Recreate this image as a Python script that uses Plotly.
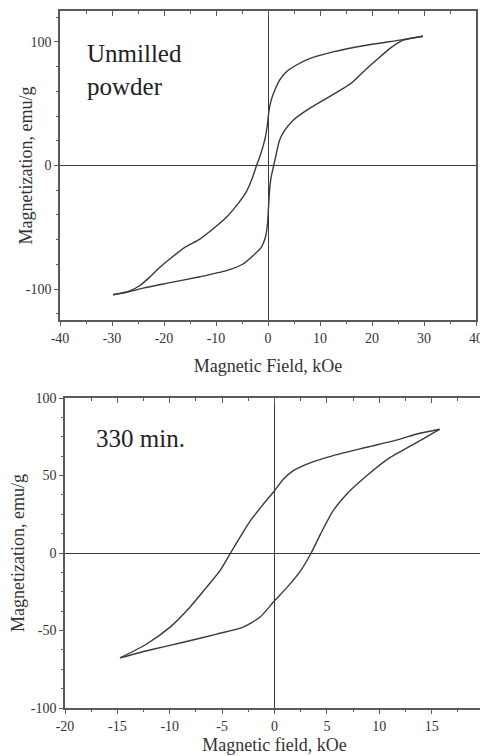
import plotly.graph_objects as go

# ---------------- Data ----------------
# Top panel: Unmilled powder (field in kOe, magnetization in emu/g)
unmilled_desc_H = [29.8, 25.3, 18.9, 12.5, 8.0, 5.4, 3.5, 2.2, 1.3, 0.6, 0.2, -0.1, -0.5, -1.0, -1.6,
                   -2.2, -3.2, -4.2, -5.8, -8.0, -10.6, -13.1, -16.0, -18.9, -20.8, -22.8, -24.7, -26.6, -29.8]
unmilled_desc_M = [104.6, 101.4, 97.3, 91.9, 86.5, 81.1, 75.7, 68.9, 60.8, 52.7, 44.6, 33.8, 23.0, 14.9, 6.8,
                   0.0, -12.2, -21.6, -31.1, -41.9, -51.4, -59.5, -66.2, -75.7, -82.4, -90.5, -97.3, -101.4, -104.6]
unmilled_asc_H = [-29.8, -27.2, -24.0, -19.6, -13.1, -8.0, -4.8, -2.9, -1.3, -0.5, -0.1, 0.1, 0.3, 0.6, 1.1,
                  1.6, 2.2, 3.2, 4.8, 7.4, 10.6, 14.4, 16.3, 18.3, 20.8, 23.4, 26.0, 29.8]
unmilled_asc_M = [-104.6, -102.7, -99.2, -95.4, -90.0, -85.1, -79.7, -73.0, -66.2, -58.1, -47.3, -33.8, -20.3, -9.5, 0.0,
                  9.5, 20.3, 28.4, 36.5, 44.6, 52.7, 62.2, 67.6, 75.7, 85.1, 94.6, 101.4, 104.6]

# Bottom panel: 330 min. milled
m330_desc_H = [15.76, 13.6, 12.0, 8.8, 5.6, 3.1, 1.8, 0.86, 0.0, -1.05, -2.3, -3.3, -4.2, -5.2, -6.5, -8.1,
               -10.0, -12.2, -14.75]
m330_desc_M = [79.8, 76.8, 73.5, 68.2, 62.8, 57.4, 53.1, 47.7, 40.2, 31.6, 20.9, 10.1, 0.0, -11.4, -22.2, -35.1,
               -48.0, -58.7, -67.7]
m330_asc_H = [-14.75, -11.9, -8.7, -5.5, -3.0, -1.4, 0.0, 1.2, 2.5, 3.5, 4.4, 5.6, 6.9, 8.8, 11.05, 13.6, 15.0, 15.76]
m330_asc_M = [-67.7, -62.6, -57.6, -52.3, -47.8, -41.5, -30.8, -22.2, -11.4, 0.0, 12.3, 27.3, 38.1, 49.9, 61.7,
              71.4, 76.8, 79.8]

top_xticks = [-40, -30, -20, -10, 0, 10, 20, 30, 40]
top_xlabels = ["-40", "-30", "-20", "-10", "0", "10", "20", "30", "40"]
top_yticks = [-100, 0, 100]
top_ylabels = ["-100", "0", "100"]
bot_xticks = [-20, -15, -10, -5, 0, 5, 10, 15, 20]
bot_xlabels = ["-20", "-15", "-10", "-5", "0", "5", "10", "15", "20"]
bot_yticks = [-100, -50, 0, 50, 100]
bot_ylabels = ["-100", "-50", "0", "50", "100"]

# ---------------- Styling ----------------
FONT = "Liberation Serif"
LINE_C = "#3a3a3a"
AX_C = "#5a5a5a"
TXT_C = "#333333"

fig = go.Figure()

def add_line(x, y, xa, ya):
    fig.add_trace(go.Scatter(x=x, y=y, mode="lines", xaxis=xa, yaxis=ya,
                             line=dict(color=LINE_C, width=1.4, shape="spline", smoothing=0.6),
                             showlegend=False, hoverinfo="skip"))

add_line(unmilled_desc_H, unmilled_desc_M, "x", "y")
add_line(unmilled_asc_H, unmilled_asc_M, "x", "y")
add_line(m330_desc_H, m330_desc_M, "x2", "y2")
add_line(m330_asc_H, m330_asc_M, "x2", "y2")
# empty traces so the inside top-tick axes are drawn
fig.add_trace(go.Scatter(x=[None], y=[None], xaxis="x3", yaxis="y", showlegend=False))
fig.add_trace(go.Scatter(x=[None], y=[None], xaxis="x4", yaxis="y2", showlegend=False))

tickfont = dict(family=FONT, size=14, color=TXT_C)
titlefont = dict(family=FONT, size=18, color=TXT_C)

def xaxis_cfg(domain, anchor, rng, ticks, labels, minor, title, standoff):
    return dict(domain=domain, anchor=anchor, range=rng, tickmode="array", tickvals=ticks, ticktext=labels,
                showgrid=False, zeroline=True, zerolinecolor=LINE_C, zerolinewidth=1.2,
                showline=True, linecolor=AX_C, linewidth=1.5, mirror=True,
                ticks="outside", ticklen=4, tickwidth=1.2, tickcolor=AX_C,
                minor=dict(dtick=minor, ticks="outside", ticklen=2, tickcolor=AX_C, showgrid=False),
                tickfont=tickfont, title=dict(text=title, font=titlefont, standoff=standoff),
                automargin=False, fixedrange=True)

def yaxis_cfg(domain, anchor, rng, ticks, labels, minor):
    return dict(domain=domain, anchor=anchor, range=rng, tickmode="array", tickvals=ticks, ticktext=labels,
                showgrid=False, zeroline=True, zerolinecolor=LINE_C, zerolinewidth=1.2,
                showline=True, linecolor=AX_C, linewidth=1.5, mirror=True,
                ticks="outside", ticklen=4, tickwidth=1.2, tickcolor=AX_C,
                minor=dict(dtick=minor, ticks="outside", ticklen=2, tickcolor=AX_C, showgrid=False),
                tickfont=tickfont, automargin=False, fixedrange=True)

def top_tick_axis(overlay, anchor, rng, ticks, minor):
    return dict(overlaying=overlay, anchor=anchor, side="top", range=rng, tickmode="array", tickvals=ticks,
                showgrid=False, zeroline=False, showline=False, showticklabels=False,
                ticks="inside", ticklen=5, tickwidth=1.2, tickcolor=AX_C,
                minor=dict(dtick=minor, ticks="inside", ticklen=3, tickcolor=AX_C, showgrid=False),
                automargin=False, fixedrange=True)

# page body has an 8px margin, so the figure is 8px smaller and shifted
OFF = 8
W, H = 488 - OFF, 756 - OFF
top_xd = [(60 - OFF) / W, (476 - OFF) / W]
top_yd = [1 - (320 - OFF) / H, 1 - (11 - OFF) / H]
bot_xd = [(65 - OFF) / W, (484 - OFF) / W]
bot_yd = [1 - (708 - OFF) / H, 1 - (398 - OFF) / H]

fig.update_layout(
    width=W, height=H,
    margin=dict(l=0, r=0, t=0, b=0),
    font=dict(family=FONT, color=TXT_C),
    paper_bgcolor="white", plot_bgcolor="white",
    xaxis=xaxis_cfg(top_xd, "y", [-40, 40], top_xticks, top_xlabels, 5, "Magnetic Field, kOe", 15),
    yaxis=yaxis_cfg(top_yd, "x", [-125, 125], top_yticks, top_ylabels, 20),
    xaxis2=xaxis_cfg(bot_xd, "y2", [-20, 20], bot_xticks, bot_xlabels, 2.5, "Magnetic field, kOe", 6),
    yaxis2=yaxis_cfg(bot_yd, "x2", [-100, 100], bot_yticks, bot_ylabels, 12.5),
    xaxis3=top_tick_axis("x", "y", [-40, 40], top_xticks, 5),
    xaxis4=top_tick_axis("x2", "y2", [-20, 20], bot_xticks, 2.5),
    annotations=[
        dict(text="Magnetization, emu/g", textangle=-90, x=(25 - OFF) / W, y=0.5, xref="paper", yref="y domain",
             xanchor="center", yanchor="middle", showarrow=False, font=titlefont),
        dict(text="Magnetization, emu/g", textangle=-90, x=(18 - OFF) / W, y=0.5, xref="paper", yref="y2 domain",
             xanchor="center", yanchor="middle", showarrow=False, font=titlefont),
        dict(text="Unmilled<br>powder", x=-35.2, y=103, xref="x", yref="y", xanchor="left", yanchor="top",
             align="left", showarrow=False, font=dict(family=FONT, size=25, color="#222222")),
        dict(text="330 min.", x=-17.2, y=74, xref="x2", yref="y2", xanchor="left", yanchor="middle",
             align="left", showarrow=False, font=dict(family=FONT, size=25, color="#222222")),
    ],
)

fig.write_html("out.html")
